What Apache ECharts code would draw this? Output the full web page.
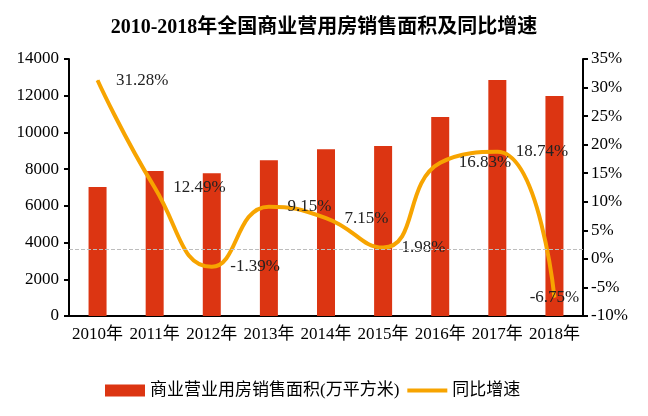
<!DOCTYPE html>
<html><head><meta charset="utf-8">
<script src="https://cdn.jsdelivr.net/npm/echarts@6/dist/echarts.min.js"></script>
<style>html,body{margin:0;padding:0;background:#fff}#c{width:648px;height:416px}</style>
</head><body><div id="c"></div>
<script>
const categories = ['2010年','2011年','2012年','2013年','2014年','2015年','2016年','2017年','2018年'];
const salesArea = [7030, 7900, 7780, 8490, 9090, 9260, 10840, 12850, 11980];
const growthRate = [31.28, 12.49, -1.39, 9.15, 7.15, 1.98, 16.83, 18.74, -6.75];
const refLine = 3650;
const FONT = '"Liberation Serif","DejaVu Serif","Noto Sans CJK SC",serif';
const chart = echarts.init(document.getElementById('c'));
const lineData = growthRate.map((v, i) => i === growthRate.length - 1
  ? { value: v, label: { position: 'inside' } }
  : v);
chart.setOption({
  animation: false,
  title: {
    text: '2010-2018年全国商业营用房销售面积及同比增速',
    left: 'center', top: 13,
    textStyle: { fontFamily: FONT, fontSize: 20, fontWeight: 'bold', color: '#000' }
  },
  legend: {
    bottom: 12, left: 100,
    itemWidth: 40, itemHeight: 12, itemGap: 8,
    symbolKeepAspect: true,
    textStyle: { fontFamily: FONT, fontSize: 17, color: '#000' },
    data: [
      { name: '商业营业用房销售面积(万平方米)', icon: 'rect' },
      { name: '同比增速', icon: 'path://M0,0H40V4H0Z', itemStyle: { color: '#F7A400' } }
    ]
  },
  grid: { left: 69, right: 65, top: 59, bottom: 100 },
  xAxis: {
    type: 'category', data: categories,
    axisLine: { lineStyle: { color: '#000', width: 2 } },
    axisTick: { show: false },
    axisLabel: { fontFamily: FONT, fontSize: 17, color: '#000', margin: 10, interval: 0 }
  },
  yAxis: [{
    type: 'value', min: 0, max: 14000, interval: 2000,
    axisLine: { show: true, lineStyle: { color: '#000', width: 2 } },
    axisTick: { show: true, length: 5, lineStyle: { color: '#000', width: 2 } },
    splitLine: { show: false },
    axisLabel: { fontFamily: FONT, fontSize: 17, color: '#000', margin: 10, formatter: v => String(v) }
  }, {
    type: 'value', min: -10, max: 35, interval: 5,
    axisLine: { show: true, lineStyle: { color: '#000', width: 2 } },
    axisTick: { show: true, length: 5, lineStyle: { color: '#000', width: 2 } },
    splitLine: { show: false },
    axisLabel: { fontFamily: FONT, fontSize: 17, color: '#000', margin: 8, formatter: '{value}%' }
  }],
  series: [{
    name: '商业营业用房销售面积(万平方米)', type: 'bar', data: salesArea,
    barWidth: 18, itemStyle: { color: '#DC3512' },
    markLine: {
      silent: true, symbol: 'none', label: { show: false },
      lineStyle: { color: '#bdbdbd', type: 'dashed', width: 1 },
      data: [{ yAxis: refLine }]
    }
  }, {
    name: '同比增速', type: 'line', yAxisIndex: 1, data: lineData,
    smooth: 0.5, symbol: 'circle', symbolSize: 1,
    itemStyle: { color: '#F7A400' },
    lineStyle: { color: '#F7A400', width: 4 },
    label: {
      show: true, position: 'right', distance: 18,
      fontFamily: FONT, fontSize: 17, color: '#222',
      formatter: p => p.value.toFixed(2) + '%'
    },
    z: 3
  }]
});
</script></body></html>
